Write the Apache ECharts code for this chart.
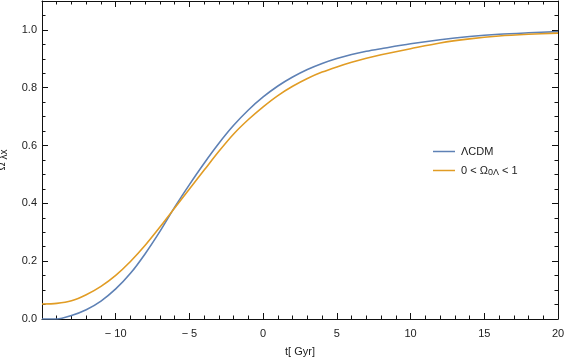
<!DOCTYPE html>
<html>
<head>
<meta charset="utf-8">
<script src="https://cdn.jsdelivr.net/npm/echarts@6/dist/echarts.min.js"></script>
<style>
  html, body { margin: 0; padding: 0; background: #fff; }
  #main { width: 566px; height: 357px; }
</style>
</head>
<body>
<div id="main"></div>
<script>
// time in Gyr (0 = today)
var tValues = [-15, -14, -13, -12, -11, -10, -9, -8, -7, -6, -5, -4, -3, -2, -1, 0,
  1, 2, 3, 4, 5, 6, 7, 8, 10, 12, 14, 16, 18, 20];
// Omega_lambda, LCDM
var lcdmValues = [0, 0, 0.012, 0.032, 0.062, 0.104, 0.158, 0.226, 0.303, 0.387, 0.465, 0.539,
  0.608, 0.670, 0.723, 0.768, 0.806, 0.837, 0.863, 0.884, 0.901, 0.915, 0.926, 0.935,
  0.952, 0.966, 0.977, 0.985, 0.990, 0.994];
// Omega_lambda, 0 < Omega_0Lambda < 1
var otherValues = [0.052, 0.054, 0.063, 0.084, 0.113, 0.151, 0.199, 0.255, 0.318, 0.384, 0.450,
  0.515, 0.580, 0.640, 0.690, 0.734, 0.773, 0.805, 0.832, 0.854, 0.872, 0.888, 0.902, 0.914,
  0.935, 0.955, 0.969, 0.979, 0.985, 0.989];

var yMajorTicks = [0, 0.2, 0.4, 0.6, 0.8, 1.0];
var yMinorTicks = [0.05, 0.1, 0.15, 0.25, 0.3, 0.35, 0.45, 0.5, 0.55, 0.65, 0.7, 0.75, 0.85, 0.9,
  0.95, 1.05];

var seriesNames = ["ΛCDM", "0 < Ω0Λ < 1"];

function pairs(vals) {
  return tValues.map(function (t, i) { return [t, vals[i]]; });
}

var font = "Liberation Sans";
var black = "#111";

function xAx(pos, labels) {
  return {
    type: "value", position: pos, min: -15, max: 20, interval: 5,
    axisLine: { show: true, onZero: false, lineStyle: { color: black, width: 1 } },
    axisTick: { show: true, inside: true, length: 6, lineStyle: { color: black, width: 1 } },
    minorTick: { show: true, splitNumber: 5, length: 3.5, lineStyle: { color: black, width: 1 } },
    splitLine: { show: false },
    axisLabel: {
      show: labels, margin: 9, fontFamily: font, fontSize: 11, color: "#222",
      showMinLabel: false,
      formatter: function (v) { return v < 0 ? "\u2212 " + Math.abs(v) : String(v); }
    },
    name: labels ? "t[ Gyr]" : "",
    nameLocation: "middle", nameGap: 27,
    nameTextStyle: { fontFamily: font, fontSize: 11, color: "#222" }
  };
}

function yAx(pos, labels, minor) {
  return {
    type: "value", position: pos, min: 0, max: 1.1, interval: 0.2,
    axisLine: { show: !minor, onZero: false, lineStyle: { color: black, width: 1 } },
    axisTick: {
      show: true, inside: true, length: minor ? 3.5 : 6, lineStyle: { color: black, width: 1 },
      customValues: minor ? yMinorTicks : yMajorTicks
    },
    splitLine: { show: false },
    axisLabel: {
      show: labels, margin: 5, fontFamily: font, fontSize: 11, color: "#222",
      customValues: yMajorTicks,
      formatter: function (v) { return v.toFixed(1); }
    },
    name: labels ? "{t|Ω}{s| λx}" : "",
    nameLocation: "middle", nameGap: 33,
    nameTextStyle: {
      fontFamily: font, color: "#222",
      rich: {
        t: { fontFamily: font, fontSize: 11, color: "#222" },
        s: { fontFamily: font, fontSize: 10, color: "#222", padding: [4, 0, 0, 0] }
      }
    }
  };
}

var chart = echarts.init(document.getElementById("main"));
chart.setOption({
  animation: false,
  backgroundColor: "#fff",
  grid: { left: 42, right: 8, top: 1, bottom: 38, containLabel: false, outerBoundsMode: "none" },
  xAxis: [xAx("bottom", true), xAx("top", false)],
  yAxis: [yAx("left", true, false), yAx("right", false, false),
          yAx("left", false, true), yAx("right", false, true)],
  legend: {
    orient: "vertical", left: 428, top: 141, icon: "rect", itemWidth: 22, itemHeight: 1.5, itemGap: 8,
    textStyle: {
      fontFamily: font, fontSize: 11, color: "#222", padding: [0, 0, 0, 1],
      rich: {
        t: { fontFamily: font, fontSize: 11, color: "#222" },
        s: { fontFamily: font, fontSize: 9, color: "#222", padding: [5, 0, 0, 0] }
      }
    },
    formatter: function (name) {
      if (name === seriesNames[1]) return "{t|0 < Ω}{s|0Λ}{t| < 1}";
      return "{t|" + name + "}";
    },
    data: seriesNames
  },
  series: [
    {
      name: seriesNames[0], type: "line", data: pairs(lcdmValues), showSymbol: false, symbol: "none",
      smooth: 0.3, clip: true,
      lineStyle: { color: "#5e81b5", width: 1.6 }, itemStyle: { color: "#5e81b5" }
    },
    {
      name: seriesNames[1], type: "line", data: pairs(otherValues), showSymbol: false, symbol: "none",
      smooth: 0.3, clip: true,
      lineStyle: { color: "#e19c24", width: 1.6 }, itemStyle: { color: "#e19c24" }
    }
  ]
});
</script>
</body>
</html>
